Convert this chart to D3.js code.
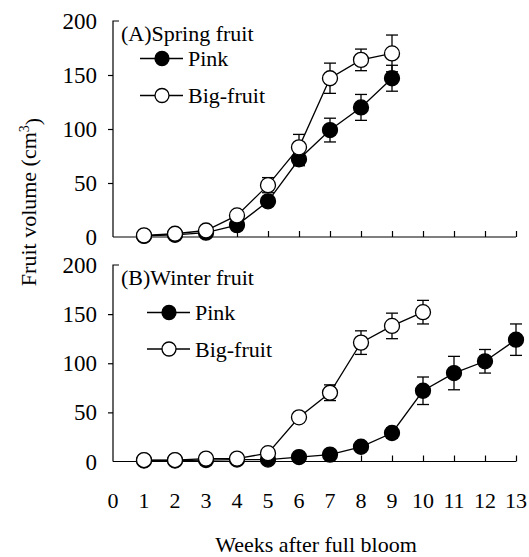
<!DOCTYPE html>
<meta charset="utf-8">
<style>
body { margin: 0; background: #fff; }
svg text { font-family: "Liberation Serif", "Times New Roman", Times, "DejaVu Serif", serif; fill: #000; }
.axis path, .axis line { stroke: #000; stroke-width: 1.2px; }
</style>
<svg width="529" height="557"></svg>
<script src="https://d3js.org/d3.v7.min.js"></script>
<script>

// weeks after full bloom
var weeksA = [1, 2, 3, 4, 5, 6, 7, 8, 9];
var pinkA = [1, 2, 4, 11, 33, 72, 99, 120, 147];
var pinkAErr = [0, 0, 0, 0, 4, 6, 11, 12, 12];
var bigA = [1.5, 3, 6, 20, 48, 83, 147, 164, 170];
var bigAErr = [0, 0, 0, 0, 7, 12, 14, 10, 17];

var weeksBPink = [1, 2, 3, 4, 5, 6, 7, 8, 9, 10, 11, 12, 13];
var pinkB = [1, 1, 1.5, 2, 2, 4.5, 7, 15, 29, 72, 90, 102, 124];
var pinkBErr = [0, 0, 0, 0, 0, 0, 0, 0, 5, 14, 17, 12, 16];
var weeksBBig = [1, 2, 3, 4, 5, 6, 7, 8, 9, 10];
var bigB = [1.5, 1.5, 3, 3, 8.5, 45, 70, 121, 138, 152];
var bigBErr = [0, 0, 0, 0, 0, 0, 8, 12, 13, 12];

var yTicks = [0, 50, 100, 150, 200];
var xTicks = d3.range(0, 14);

var FONT = "'Liberation Serif', 'Times New Roman', Times, 'DejaVu Serif', serif";

var svg = d3.select("svg");

var x = d3.scaleLinear().domain([0, 13]).range([113, 516]);

var panels = [
  { title: "(A)Spring fruit", top: 21, bottom: 237, weeksP: weeksA, pink: pinkA, pinkErr: pinkAErr,
    weeksB: weeksA, big: bigA, bigErr: bigAErr, legY: [58.5, 95.5], legX: 140, labels: false },
  { title: "(B)Winter fruit", top: 265, bottom: 461.5, weeksP: weeksBPink, pink: pinkB, pinkErr: pinkBErr,
    weeksB: weeksBBig, big: bigB, bigErr: bigBErr, legY: [312.5, 349], legX: 147, labels: true }
];

panels.forEach(function(p) {
  var y = d3.scaleLinear().domain([0, 200]).range([p.bottom, p.top]);
  var g = svg.append("g");

  // x axis, ticks pointing up
  var xa = g.append("g")
      .attr("class", "axis")
      .attr("transform", "translate(0," + p.bottom + ")")
      .call(d3.axisTop(x).tickValues(xTicks.slice(1)).tickSize(6).tickSizeOuter(0).tickFormat(""));
  xa.select(".domain").attr("d", "M" + x(0) + ",0H" + x(13));

  if (p.labels) {
    g.selectAll(".xl").data(xTicks).enter().append("text")
        .attr("x", function(d) { return x(d); })
        .attr("y", p.bottom + 46.5)
        .attr("text-anchor", "middle")
        .style("font-family", FONT)
        .style("font-size", "22px")
        .text(function(d) { return d; });
  }

  // y axis
  var ya = g.append("g")
      .attr("class", "axis")
      .attr("transform", "translate(" + x(0) + ",0)")
      .call(d3.axisLeft(y).tickValues(yTicks.slice(1, 4)).tickSize(5).tickSizeOuter(0).tickFormat(""));
  ya.select(".domain").attr("d", "M6," + y(200) + "H0V" + y(0));

  g.selectAll(".yl").data(yTicks).enter().append("text")
      .attr("x", 97)
      .attr("y", function(d) { return y(d); })
      .attr("dy", "0.35em")
      .attr("text-anchor", "end")
      .style("font-family", FONT)
      .style("font-size", "23px")
      .text(function(d) { return d; });

  var line = d3.line()
      .x(function(d) { return x(d[0]); })
      .y(function(d) { return y(d[1]); });

  function series(weeks, vals, errs) {
    var pts = weeks.map(function(w, i) { return [w, vals[i], errs[i]]; });
    g.append("path")
        .datum(pts)
        .attr("d", line)
        .attr("fill", "none")
        .attr("stroke", "#000")
        .attr("stroke-width", 1.3);
    var eb = g.append("g").selectAll("g").data(pts.filter(function(d) { return d[2] > 0; }))
      .enter().append("g").attr("stroke", "#000").attr("stroke-width", 1.3);
    eb.append("line")
        .attr("x1", function(d) { return x(d[0]); })
        .attr("x2", function(d) { return x(d[0]); })
        .attr("y1", function(d) { return y(d[1] - d[2]); })
        .attr("y2", function(d) { return y(d[1] + d[2]); });
    [1, -1].forEach(function(s) {
      eb.append("line")
          .attr("x1", function(d) { return x(d[0]) - 6; })
          .attr("x2", function(d) { return x(d[0]) + 6; })
          .attr("y1", function(d) { return y(d[1] + s * d[2]); })
          .attr("y2", function(d) { return y(d[1] + s * d[2]); });
    });
    return pts;
  }

  function dots(pts, fill) {
    g.append("g").selectAll("circle").data(pts).enter().append("circle")
        .attr("cx", function(d) { return x(d[0]); })
        .attr("cy", function(d) { return y(d[1]); })
        .attr("r", 7.5)
        .attr("fill", fill)
        .attr("stroke", "#000")
        .attr("stroke-width", 1.3);
  }

  var pp = series(p.weeksP, p.pink, p.pinkErr);
  var bp = series(p.weeksB, p.big, p.bigErr);
  dots(pp, "#000");
  dots(bp, "#fff");

  // legend
  g.append("text")
      .attr("x", 121)
      .attr("y", p.top + 12.5)
      .attr("dy", "0.35em")
      .style("font-family", FONT)
      .style("font-size", "22px")
      .text(p.title);

  [["Pink", "#000"], ["Big-fruit", "#fff"]].forEach(function(l, i) {
    var ly = p.legY[i];
    g.append("line")
        .attr("x1", p.legX).attr("x2", p.legX + 43)
        .attr("y1", ly).attr("y2", ly)
        .attr("stroke", "#000").attr("stroke-width", 1.3);
    g.append("circle")
        .attr("cx", p.legX + 22).attr("cy", ly).attr("r", 7)
        .attr("fill", l[1]).attr("stroke", "#000").attr("stroke-width", 1.3);
    g.append("text")
        .attr("x", p.legX + 48)
        .attr("y", ly)
        .attr("dy", "0.35em")
        .style("font-family", FONT)
        .style("font-size", "22px")
        .text(l[0]);
  });
});

// axis titles
var yt = svg.append("text")
    .attr("transform", "translate(36,202) rotate(-90)")
    .attr("text-anchor", "middle")
    .style("font-family", FONT)
    .style("font-size", "22px");
yt.append("tspan").text("Fruit volume (cm");
yt.append("tspan").attr("dy", "-0.5em").style("font-size", "14px").text("3");
yt.append("tspan").attr("dy", "0.5em").text(")");

svg.append("text")
    .attr("x", 316)
    .attr("y", 552)
    .attr("text-anchor", "middle")
    .style("font-family", FONT)
    .style("font-size", "22px")
    .text("Weeks after full bloom");

</script>
